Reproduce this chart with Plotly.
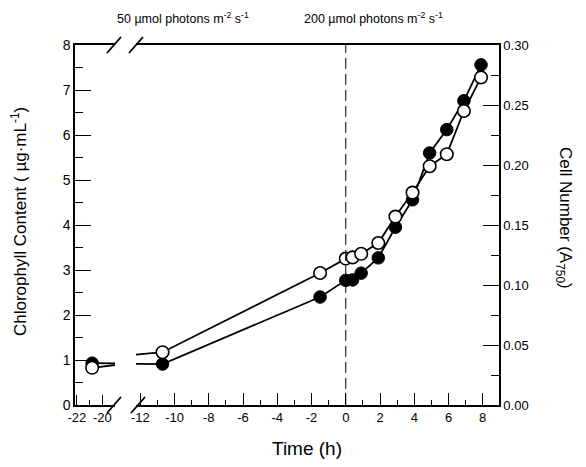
import plotly.graph_objects as go

# ---- data ----
time_h = [-20.8, -10.7, -1.5, 0.0, 0.4, 0.9, 1.9, 2.9, 3.9, 4.9, 5.9, 6.9, 7.9]
chlorophyll = [0.93, 0.91, 2.40, 2.77, 2.78, 2.93, 3.27, 3.95, 4.56, 5.60, 6.12, 6.76, 7.56]
cell_number = [0.031, 0.044, 0.110, 0.122, 0.123, 0.126, 0.135, 0.157, 0.177, 0.199, 0.209, 0.245, 0.273]

left_ticks = [-22, -20]
right_ticks = [-12, -10, -8, -6, -4, -2, 0, 2, 4, 6, 8]

FONT = "Liberation Sans, Arial, sans-serif"

fig = go.Figure()

line_w = 1.8
filled_marker = dict(symbol="circle", size=12.5, color="black", line=dict(color="black", width=1))
open_marker = dict(symbol="circle", size=12.5, color="white", line=dict(color="black", width=1.6))

for xa in ["x", "x2"]:
    fig.add_trace(go.Scatter(x=time_h, y=cell_number, xaxis=xa, yaxis="y2",
                             mode="lines+markers", line=dict(color="black", width=line_w),
                             marker=open_marker, showlegend=False))
    fig.add_trace(go.Scatter(x=time_h, y=chlorophyll, xaxis=xa, yaxis="y",
                             mode="lines+markers", line=dict(color="black", width=line_w),
                             marker=filled_marker, showlegend=False))

# page body has an 8px margin, so the figure is drawn 8px smaller and offset
OFF = 8
W, H = 586 - OFF, 467 - OFF
L, R, T, B = 75 - OFF, 87, 45 - OFF, 62
pw = W - L - R
ph = H - T - B

def px(xpix):  # page pixel -> paper x
    return (xpix - OFF - L) / pw

def py(ypix):  # page pixel -> paper y
    return (T + ph - (ypix - OFF)) / ph

seg1_end = px(115)
seg2_start = px(136)

tickfont = dict(family=FONT, size=13, color="black")

fig.update_layout(
    width=W, height=H,
    margin=dict(l=L, r=R, t=T, b=B),
    plot_bgcolor="white", paper_bgcolor="white",
    font=dict(family=FONT, color="black"),
    xaxis=dict(domain=[0, seg1_end], range=[-22.15, -19.0], anchor="y",
               tickmode="array", tickvals=left_ticks, ticktext=[str(v) for v in left_ticks],
               ticks="inside", ticklen=10, tickwidth=1.2, tickcolor="black",
               minor=dict(ticks="inside", ticklen=5, tickmode="array", tickvals=[-21], tickcolor="black"),
               showline=True, linecolor="black", linewidth=1.5, mirror=True,
               showgrid=False, zeroline=False, tickfont=tickfont),
    xaxis2=dict(domain=[seg2_start, 1], range=[-12.25, 8.95], anchor="y",
                tickmode="array", tickvals=right_ticks, ticktext=[str(v) for v in right_ticks],
                ticks="inside", ticklen=12, tickwidth=1.2, tickcolor="black",
                minor=dict(ticks="inside", ticklen=5, dtick=1, tick0=0, tickcolor="black"),
                showline=True, linecolor="black", linewidth=1.5, mirror=True,
                showgrid=False, zeroline=False, tickfont=tickfont),
    yaxis=dict(domain=[0, 1], range=[0, 8], anchor="x", dtick=1, tick0=0,
               ticks="inside", ticklen=16, tickwidth=1.2, tickcolor="black",
               minor=dict(ticks="inside", ticklen=8, dtick=0.5, tick0=0, tickcolor="black"),
               showline=True, linecolor="black", linewidth=1.5,
               showgrid=False, zeroline=False, tickfont=dict(family=FONT, size=14, color="black")),
    yaxis2=dict(range=[0, 0.30], overlaying="y", side="right", anchor="x2",
                dtick=0.05, tick0=0, tickformat=".2f",
                ticks="inside", ticklen=16, tickwidth=1.2, tickcolor="black",
                minor=dict(ticks="inside", ticklen=8, dtick=0.025, tick0=0, tickcolor="black"),
                showline=True, linecolor="black", linewidth=1.5,
                showgrid=False, zeroline=False, tickfont=tickfont),
)

# dashed reference line at light switch (time 0)
fig.add_shape(type="line", xref="x2", yref="paper", x0=0, x1=0, y0=0, y1=1,
              line=dict(color="black", width=1, dash="11px,5px"))

# axis break marks
for cx, cy in [(114, 45), (136, 45), (114, 405), (138, 405)]:
    fig.add_shape(type="line", xref="paper", yref="paper",
                  x0=px(cx - 7), x1=px(cx + 7), y0=py(cy + 8), y1=py(cy - 8),
                  line=dict(color="black", width=1.8))

def note(text, x, y, size, angle=0):
    return dict(text=text, x=px(x), y=py(y), xref="paper", yref="paper",
                xanchor="center", yanchor="middle", textangle=angle, showarrow=False,
                font=dict(family=FONT, size=size, color="black"))

ann = [
    note("Time (h)", 307, 448, 19),
    note("Chlorophyll Content ( µg·mL<sup>-1</sup>)", 19, 222, 17, -90),
    note("Cell Number (A<sub>750</sub>)", 564, 218, 17, 90),
    note("50 µmol photons m<sup>-2</sup> s<sup>-1</sup>", 183, 18, 12.5),
    note("200 µmol photons m<sup>-2</sup> s<sup>-1</sup>", 373, 18, 12.5),
]
fig.update_layout(annotations=ann)

fig.write_html("out.html")
